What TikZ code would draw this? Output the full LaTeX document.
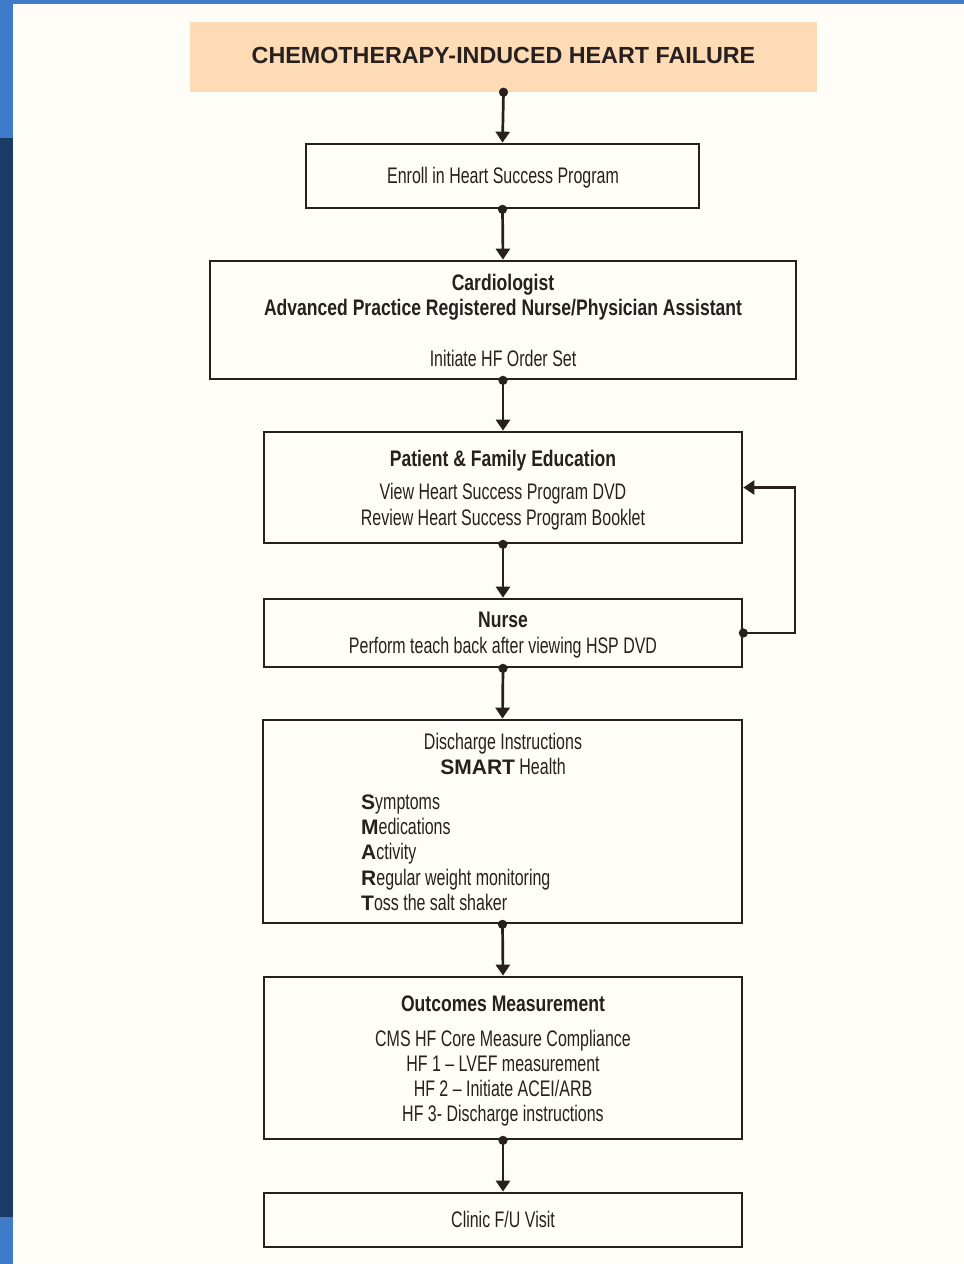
\documentclass[tikz,border=0pt]{standalone}
\usepackage{fontspec}
\setmainfont{Liberation Sans}
\newfontfamily\cond[FakeStretch=0.71,BoldFeatures={FakeStretch=0.78},Ligatures=TeX]{Liberation Sans}
\newfontfamily\wideface{Liberation Sans}
\newcommand\wb[1]{{\wideface\bfseries\fontsize{21}{26}\selectfont #1}}
\usetikzlibrary{arrows.meta}
\definecolor{ink}{RGB}{40,32,30}
\definecolor{paper}{RGB}{254,253,248}
\definecolor{peach}{RGB}{253,219,180}
\definecolor{lightblue}{RGB}{62,123,200}
\definecolor{navy}{RGB}{28,58,102}
\tikzset{
  box/.style={draw=ink, line width=2.7pt, rectangle, inner sep=0pt},
  txt/.style={anchor=base, text=ink, inner sep=0pt, font=\cond\fontsize{22.5}{26}\selectfont},
  btxt/.style={txt, font=\cond\bfseries\fontsize{22.5}{26}\selectfont},
  flow/.style={draw=ink, line width=2.7pt, {Circle[length=9pt]}-{Triangle[width=14pt,length=11pt]}, shorten <=-4.5pt},
}
\begin{document}
\begin{tikzpicture}[x=1pt,y=-1pt]
\useasboundingbox (0,0) rectangle (964,1264);
\fill[paper] (0,0) rectangle (964,1264);
\fill[lightblue] (0,0) rectangle (964,4);
\fill[lightblue] (0,0) rectangle (13,138);
\fill[navy] (0,138) rectangle (13,1217);
\fill[lightblue] (0,1217) rectangle (13,1264);

% boxes
\node[fill=peach, rectangle, inner sep=0pt, minimum width=627pt, minimum height=70pt] (title) at (503.5,57) {};
\node[box, minimum width=393pt, minimum height=64pt] (enroll) at (502.5,176) {};
\node[box, minimum width=586pt, minimum height=118pt] (cardio) at (503,320) {};
\node[box, minimum width=478pt, minimum height=111pt] (patient) at (503,487.5) {};
\node[box, minimum width=478pt, minimum height=68pt] (nurse) at (503,633) {};
\node[box, minimum width=479pt, minimum height=203pt] (discharge) at (502.5,821.5) {};
\node[box, minimum width=478pt, minimum height=162pt] (outcomes) at (503,1058) {};
\node[box, minimum width=478pt, minimum height=54pt] (clinic) at (503,1220) {};

% texts
\node[anchor=base, text=ink, inner sep=0pt, font=\bfseries\fontsize{23.3}{27}\selectfont] (ttl) at (503.5,63) {CHEMOTHERAPY-INDUCED HEART FAILURE};
\node[txt] (t1) at (503,183.5) {Enroll in Heart Success Program};
\node[btxt] (t2) at (503,290) {Cardiologist};
\node[btxt] (t3) at (503,315) {Advanced Practice Registered Nurse/Physician Assistant};
\node[txt] (t4) at (503,366) {Initiate HF Order Set};
\node[btxt] (t5) at (503,466) {Patient \& Family Education};
\node[txt] (t6) at (503,499) {View Heart Success Program DVD};
\node[txt] (t7) at (503,525) {Review Heart Success Program Booklet};
\node[btxt] (t8) at (503,627) {Nurse};
\node[txt] (t9) at (503,653) {Perform teach back after viewing HSP DVD};
\node[txt] (t10) at (503,749) {Discharge Instructions};
\node[txt] (t11) at (503,774) {\wb{SMART} Health};
\node[txt, anchor=base west] (s1) at (361,809) {\wb{S}ymptoms};
\node[txt, anchor=base west] (s2) at (361,834) {\wb{M}edications};
\node[txt, anchor=base west] (s3) at (361,859) {\wb{A}ctivity};
\node[txt, anchor=base west] (s4) at (361,885) {\wb{R}egular weight monitoring};
\node[txt, anchor=base west] (s5) at (361,910) {\wb{T}oss the salt shaker};
\node[btxt] (t12) at (503,1011) {Outcomes Measurement};
\node[txt] (t13) at (503,1046) {CMS HF Core Measure Compliance};
\node[txt] (t14) at (503,1071) {HF 1 – LVEF measurement};
\node[txt] (t15) at (503,1096) {HF 2 – Initiate ACEI/ARB};
\node[txt] (t16) at (503,1121) {HF 3- Discharge instructions};
\node[txt] (t17) at (503,1227) {Clinic F/U Visit};

% connectors
\draw[flow] (title.south) -- (enroll.north);
\draw[flow] (enroll.south) -- (cardio.north);
\draw[flow] (cardio.south) -- (patient.north);
\draw[flow] (patient.south) -- (nurse.north);
\draw[flow] (nurse.south) -- (discharge.north);
\draw[flow] (discharge.south) -- (outcomes.north);
\draw[flow] (outcomes.south) -- (clinic.north);
\coordinate (loopr) at (795,633);
\draw[flow] (nurse.east) -- (loopr) |- (patient.east);
\end{tikzpicture}
\end{document}
